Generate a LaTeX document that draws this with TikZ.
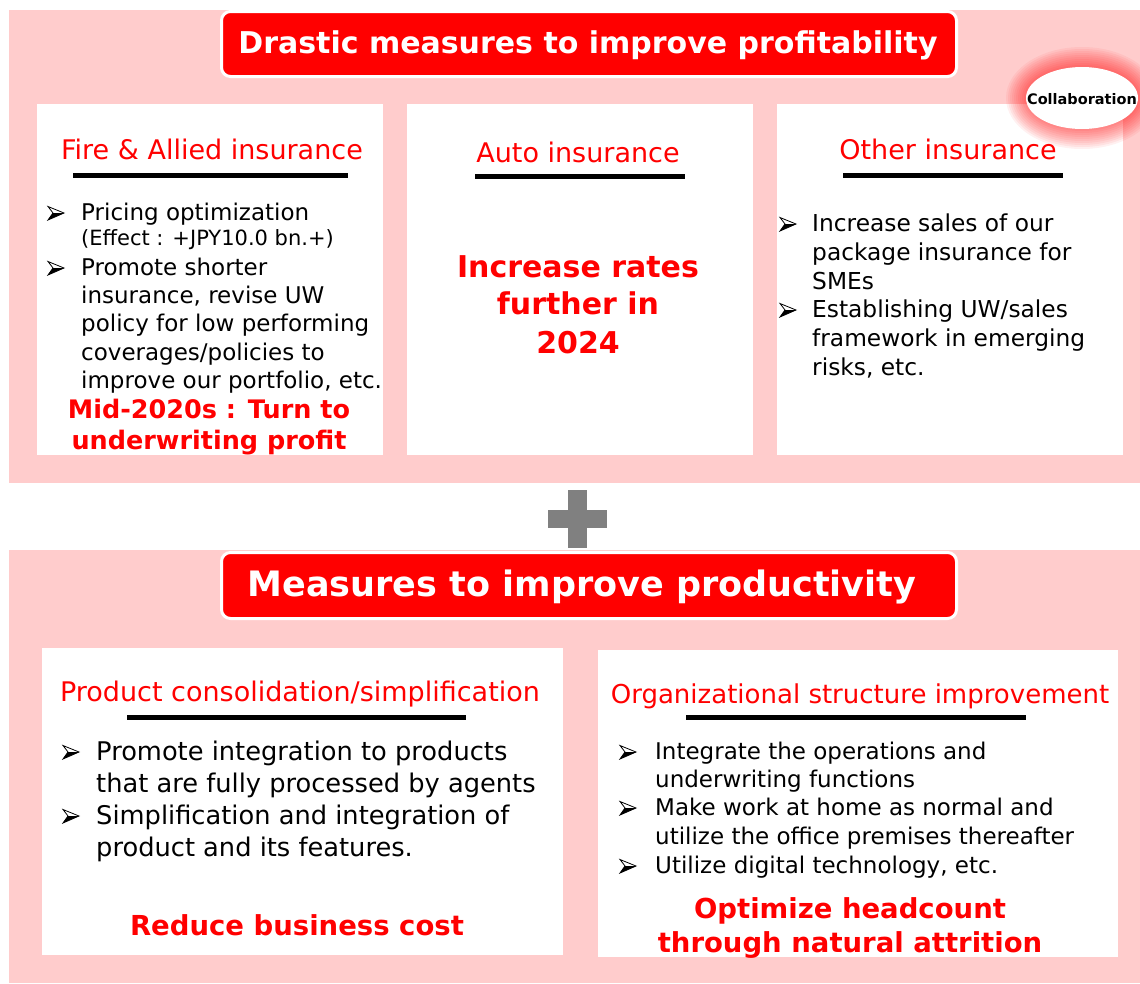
\documentclass[tikz,border=0pt]{standalone}
\usepackage{fontspec}
\setmainfont{DejaVu Sans}
\usetikzlibrary{shapes.geometric}
\definecolor{pinkbg}{HTML}{FFCCCC}
\definecolor{redc}{HTML}{FF0000}
\definecolor{plusgray}{HTML}{808080}
\begin{document}
\begin{tikzpicture}[x=1pt,y=-1pt,
  panel/.style={fill=pinkbg,draw=none},
  wbox/.style={fill=white,draw=none,anchor=north west,inner sep=0pt},
  titlebox/.style={fill=redc,draw=white,line width=3pt,rounded corners=9pt,anchor=north west,inner sep=0pt},
  ttl/.style={text=white,font=\bfseries\fontsize{#1}{#1}\selectfont,anchor=base,inner sep=0pt},
  sub/.style={text=redc,font=\fontsize{#1}{#1}\selectfont,anchor=base,inner sep=0pt},
  body/.style={text=black,font=\fontsize{#1}{#1}\selectfont,anchor=base west,inner sep=0pt},
  hl/.style={text=redc,font=\bfseries\fontsize{#1}{#1}\selectfont,anchor=base,inner sep=0pt},
  uline/.style={line width=5pt,draw=black},
  arrowbullet/.pic={
    \draw[black,line width=0.8pt,fill=white,line join=miter] (0,-6.5) -- (16,0) -- (0,7) -- (5,0) -- cycle;
    \fill[black] (5,0) -- (16,0) -- (0,7) -- cycle;
  },
]
\useasboundingbox (0,0) rectangle (1140,983);
\fill[white] (0,0) rectangle (1140,983);
% panels
\fill[panel] (9,10) rectangle (1140,483);
\fill[panel] (9,550) rectangle (1140,983);
% top title
\node[titlebox,minimum width=735pt,minimum height=65pt] (t1box) at (220,10) {};
\node[ttl=30] (t1) at (588,53) {Drastic measures to improve profitability};
% top white boxes
\node[wbox,minimum width=346pt,minimum height=351pt] (b1) at (37,104) {};
\node[wbox,minimum width=346pt,minimum height=351pt] (b2) at (407,104) {};
\node[wbox,minimum width=346pt,minimum height=351pt] (b3) at (777,104) {};
% collaboration ellipse with glow
\foreach \k in {20,18,...,2}{
  \fill[redc,opacity=0.06] (1082,98) ellipse ({56+\k} and {31+\k});
}
\node[ellipse,fill=white,minimum width=112pt,minimum height=62pt,inner sep=0pt] (col) at (1082,98) {};
\node[text=black,font=\bfseries\fontsize{14.5}{14.5}\selectfont,inner sep=0pt] (coltext) at (1082,99) {Collaboration};
% box1
\node[sub=27] (s1) at (212,159) {Fire \& Allied insurance};
\draw[uline] (73,175) -- (348,175);
\pic at (48,213) {arrowbullet};
\node[body=23] (b1l1) at (81,220) {Pricing optimization};
\node[body=21] (b1l2) at (81,245) {(Effect : +JPY10.0 bn.+)};
\pic at (48,268) {arrowbullet};
\node[body=23] (b1l3) at (81,275) {Promote shorter};
\node[body=23] (b1l4) at (81,303) {insurance, revise UW};
\node[body=23] (b1l5) at (81,331) {policy for low performing};
\node[body=23] (b1l6) at (81,360) {coverages/policies to};
\node[body=23] (b1l7) at (81,388) {improve our portfolio, etc.};
\node[hl=25.5] (h1a) at (209,418) {Mid-2020s : Turn to};
\node[hl=25.5] (h1b) at (209,449) {underwriting profit};
% box2
\node[sub=27] (s2) at (578,162) {Auto insurance};
\draw[uline] (475,176) -- (685,176);
\node[hl=30] (h2a) at (578,277) {Increase rates};
\node[hl=30] (h2b) at (578,314) {further in};
\node[hl=30] (h2c) at (578,353) {2024};
% box3
\node[sub=27] (s3) at (948,159) {Other insurance};
\draw[uline] (843,175) -- (1063,175);
\pic at (780,224) {arrowbullet};
\node[body=23.3] (b3l1) at (812,231) {Increase sales of our};
\node[body=23.3] (b3l2) at (812,260) {package insurance for};
\node[body=23.3] (b3l3) at (812,289) {SMEs};
\pic at (780,310) {arrowbullet};
\node[body=23.3] (b3l4) at (812,317) {Establishing UW/sales};
\node[body=23.3] (b3l5) at (812,346) {framework in emerging};
\node[body=23.3] (b3l6) at (812,375) {risks, etc.};
% plus
\fill[plusgray] (568,490) rectangle (587,548);
\fill[plusgray] (548,510) rectangle (607,528);
% bottom title
\node[titlebox,minimum width=735pt,minimum height=66pt] (t2box) at (220,551) {};
\node[ttl=35] (t2) at (582,596) {Measures to improve productivity};
% bottom boxes
\node[wbox,minimum width=521pt,minimum height=307pt] (b4) at (42,648) {};
\node[wbox,minimum width=520pt,minimum height=307pt] (b5) at (598,650) {};
% box4
\node[sub=27] (s4) at (300,701) {Product consolidation/simplification};
\draw[uline] (127,717) -- (466,717);
\pic at (63,752) {arrowbullet};
\node[body=25.7] (b4l1) at (96,760) {Promote integration to products};
\node[body=25.7] (b4l2) at (96,792) {that are fully processed by agents};
\pic at (63,816) {arrowbullet};
\node[body=25.7] (b4l3) at (96,824) {Simplification and integration of};
\node[body=25.7] (b4l4) at (96,856) {product and its features.};
\node[hl=27.5] (h4) at (297,935) {Reduce business cost};
% box5
\node[sub=26] (s5) at (860,703) {Organizational structure improvement};
\draw[uline] (686,717) -- (1026,717);
\pic at (620,752) {arrowbullet};
\node[body=23] (b5l1) at (655,759) {Integrate the operations and};
\node[body=23] (b5l2) at (655,787) {underwriting functions};
\pic at (620,808) {arrowbullet};
\node[body=23] (b5l3) at (655,815) {Make work at home as normal and};
\node[body=23] (b5l4) at (655,844) {utilize the office premises thereafter};
\pic at (620,866) {arrowbullet};
\node[body=23] (b5l5) at (655,873) {Utilize digital technology, etc.};
\node[hl=27.5] (h5a) at (850,918) {Optimize headcount};
\node[hl=27.5] (h5b) at (850,952) {through natural attrition};
\end{tikzpicture}
\end{document}
